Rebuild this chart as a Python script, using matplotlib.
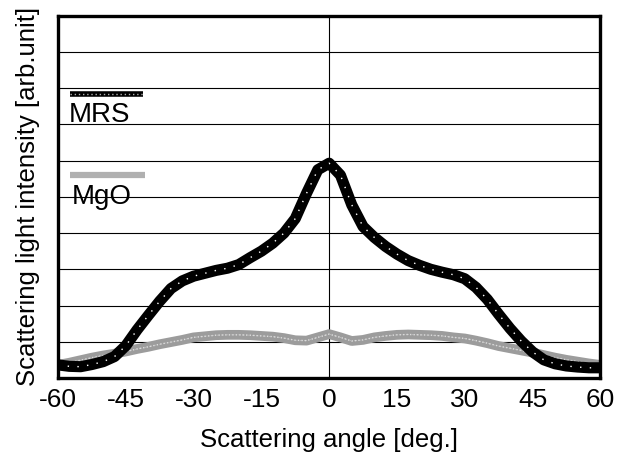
import matplotlib
matplotlib.use("Agg")
import matplotlib.pyplot as plt

plt.rcParams['font.family'] = ['Liberation Sans', 'DejaVu Sans']

angles = [-60, -57.5, -55, -52.5, -50, -47.5, -45, -42.5, -40, -37.5, -35, -32.5,
          -30, -27.5, -25, -22.5, -20, -17.5, -15, -12.5, -10, -7.5, -5, -2.5, 0,
          2.5, 5, 7.5, 10, 12.5, 15, 17.5, 20, 22.5, 25, 27.5, 30, 32.5, 35, 37.5,
          40, 42.5, 45, 47.5, 50, 52.5, 55, 57.5, 60]
mrs = [0.36, 0.32, 0.31, 0.37, 0.45, 0.59, 0.89, 1.33, 1.73, 2.12, 2.47, 2.68,
       2.81, 2.89, 2.97, 3.03, 3.13, 3.32, 3.50, 3.72, 4.00, 4.40, 5.10, 5.75, 5.93,
       5.60, 4.78, 4.18, 3.88, 3.63, 3.42, 3.24, 3.11, 3.00, 2.92, 2.85, 2.74, 2.50, 2.17, 1.76,
       1.37, 1.02, 0.72, 0.50, 0.39, 0.33, 0.30, 0.28, 0.28]
mgo = [0.36, 0.42, 0.49, 0.56, 0.62, 0.67, 0.73, 0.80, 0.86, 0.93, 0.99, 1.05,
       1.12, 1.15, 1.18, 1.19, 1.19, 1.18, 1.16, 1.14, 1.10, 1.04, 1.03, 1.12, 1.21,
       1.12, 1.02, 1.05, 1.12, 1.16, 1.19, 1.20, 1.19, 1.18, 1.16, 1.12, 1.09, 1.03, 0.96, 0.88,
       0.82, 0.76, 0.70, 0.63, 0.56, 0.50, 0.45, 0.40, 0.36]
xticks = [-60, -45, -30, -15, 0, 15, 30, 45, 60]

fig = plt.figure(figsize=(6.24, 4.66), dpi=100)
ax = fig.add_axes([0.093, 0.189, 0.869, 0.777])

ax.set_xlim(-60, 60)
ax.set_ylim(0, 10)
ax.set_yticks(range(0, 11))
ax.yaxis.grid(True, color='black', linewidth=0.8)
ax.set_yticklabels([])
ax.set_xticks(xticks)
ax.set_xticklabels([str(t) for t in xticks], fontsize=19)
ax.tick_params(axis='both', length=0, pad=7)
ax.axvline(0, color='black', linewidth=0.8)
for s in ax.spines.values():
    s.set_linewidth(2.4)
    s.set_zorder(10)

# MgO: gray textured line
ax.plot(angles, mgo, color='#9c9c9c', linewidth=7, solid_joinstyle='round',
        solid_capstyle='butt', zorder=3)
ax.plot(angles, mgo, color='#dcdcdc', linewidth=1.0, linestyle=(0, (1, 1.5)), zorder=3)
ax.plot(angles, mgo, color='#dcdcdc', linewidth=0.6, linestyle=(0.7, (0.6, 1.9)), zorder=3)
# MRS: black thick line with white dots
ax.plot(angles, mrs, color='black', linewidth=8, solid_joinstyle='round',
        solid_capstyle='butt', zorder=4)
ax.plot(angles, mrs, color='white', linewidth=1.0, linestyle=(0, (1, 6)), zorder=4)

# legend samples
tr = ax.transAxes
ax.plot([0.022, 0.157], [0.785, 0.785], transform=tr, color='black', linewidth=4,
        solid_capstyle='butt', zorder=5)
ax.plot([0.022, 0.157], [0.785, 0.785], transform=tr, color='#b0b0b0', linewidth=1,
        linestyle=(0, (1, 2)), zorder=5)
ax.text(0.020, 0.727, 'MRS', transform=tr, fontsize=20, va='center', ha='left', zorder=6)
ax.plot([0.022, 0.16], [0.561, 0.561], transform=tr, color='#b0b0b0', linewidth=4.5,
        solid_capstyle='butt', zorder=5)
ax.text(0.026, 0.50, 'MgO', transform=tr, fontsize=20, va='center', ha='left', zorder=6)

ax.set_xlabel('Scattering angle [deg.]', fontsize=18.5, labelpad=12)
ax.set_ylabel('Scattering light intensity [arb.unit]', fontsize=18.5, labelpad=6)

fig.savefig('out.png', dpi=100)
